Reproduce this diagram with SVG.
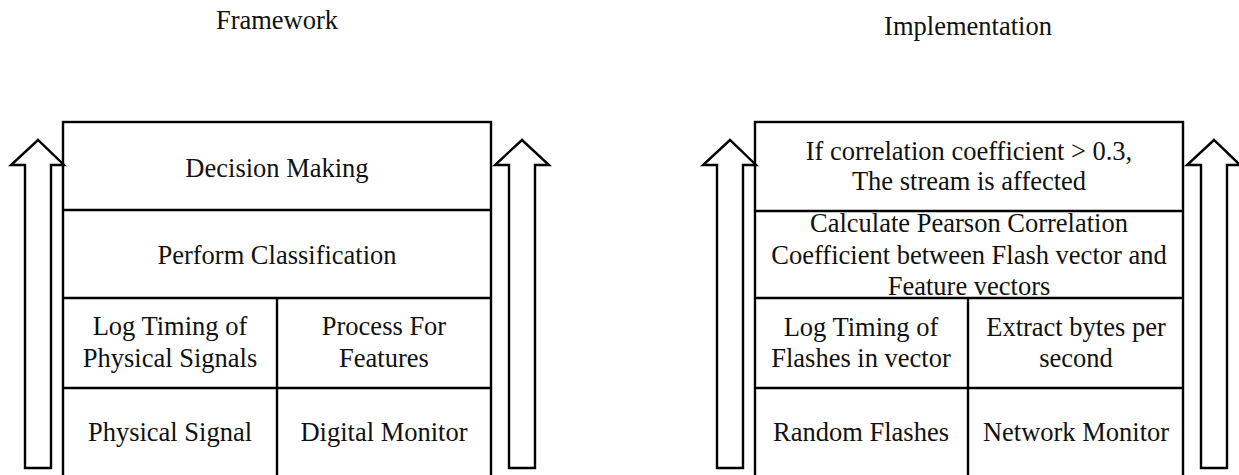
<svg xmlns="http://www.w3.org/2000/svg" width="1239" height="475" viewBox="0 0 1239 475">
<style>
.box{fill:none;stroke:#000;stroke-width:2.4}
.ln{stroke:#000;stroke-width:2.4}
.arr{fill:#fff;stroke:#000;stroke-width:2.4;stroke-linejoin:miter}
text{font-family:"Liberation Serif","Times New Roman",serif;font-size:26.5px;fill:#111;text-anchor:middle}
</style>
<rect width="1239" height="475" fill="#fff"/>
<g id="titles">
<text x="277" y="29">Framework</text>
<text x="968" y="35">Implementation</text>
</g>
<g id="connectors">
<polygon class="arr" points="25,468 25,165 11,165 38,140 64,165 51,165 51,468"/>
<polygon class="arr" points="509,468 509,165 495,165 522,140 549,165 535,165 535,468"/>
<polygon class="arr" points="717,468 717,165 703,165 730,140 756,165 743,165 743,468"/>
<polygon class="arr" points="1201,468 1201,165 1187,165 1214,140 1240,165 1227,165 1227,468"/>
</g>
<g id="framework">
<rect class="box" x="63" y="122" width="428" height="370"/>
<line class="ln" x1="63" y1="210" x2="491" y2="210"/>
<line class="ln" x1="63" y1="298" x2="491" y2="298"/>
<line class="ln" x1="63" y1="388" x2="491" y2="388"/>
<line class="ln" x1="277" y1="298" x2="277" y2="480"/>
</g>
<g id="fw-decision"><text x="277" y="177">Decision Making</text></g>
<g id="fw-classification"><text x="277" y="264">Perform Classification</text></g>
<g id="fw-log"><text x="170" y="335">Log Timing of</text><text x="170" y="367">Physical Signals</text></g>
<g id="fw-process"><text x="384" y="335">Process For</text><text x="384" y="367">Features</text></g>
<g id="fw-physical"><text x="170" y="441">Physical Signal</text></g>
<g id="fw-digital"><text x="384" y="441">Digital Monitor</text></g>
<g id="implementation">
<rect class="box" x="755" y="122" width="428" height="370"/>
<line class="ln" x1="755" y1="211" x2="1183" y2="211"/>
<line class="ln" x1="755" y1="298" x2="1183" y2="298"/>
<line class="ln" x1="755" y1="388" x2="1183" y2="388"/>
<line class="ln" x1="968" y1="298" x2="968" y2="480"/>
</g>
<g id="im-decision"><text x="969" y="160">If correlation coefficient &gt; 0.3,</text><text x="969" y="190">The stream is affected</text></g>
<g id="im-pearson"><text x="969" y="232">Calculate Pearson Correlation</text><text x="969" y="263.5">Coefficient between Flash vector and</text><text x="969" y="295">Feature vectors</text></g>
<g id="im-log"><text x="861" y="336">Log Timing of</text><text x="861" y="367">Flashes in vector</text></g>
<g id="im-extract"><text x="1076" y="336">Extract bytes per</text><text x="1076" y="367">second</text></g>
<g id="im-random"><text x="861" y="441">Random Flashes</text></g>
<g id="im-network"><text x="1076" y="441">Network Monitor</text></g>
</svg>
